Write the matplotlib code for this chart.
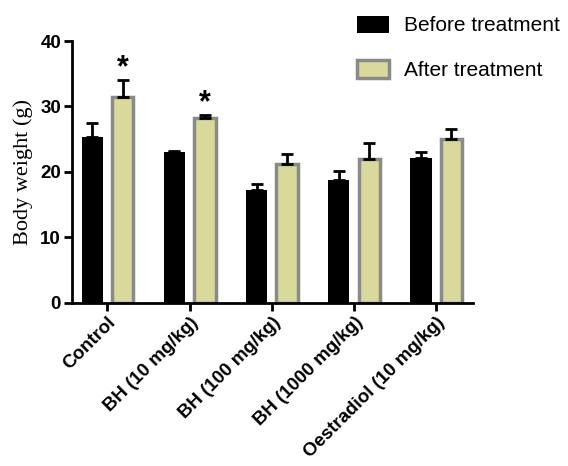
import numpy as np
import matplotlib.pyplot as plt

groups = ['Control', 'BH (10 mg/kg)', 'BH (100 mg/kg)', 'BH (1000 mg/kg)', 'Oestradiol (10 mg/kg)']
before = [25.3, 23.0, 17.3, 18.8, 22.1]
before_err = [2.2, 0.2, 0.9, 1.4, 0.9]
after = [31.5, 28.2, 21.2, 22.0, 25.1]
after_err = [2.5, 0.5, 1.6, 2.4, 1.5]
signif = ['*', '*', '', '', '']

plt.rcParams['font.family'] = ['Liberation Sans', 'DejaVu Sans']

fig = plt.figure(figsize=(5.68, 4.66), dpi=100)
ax = fig.add_axes([0.127, 0.350, 0.706, 0.562])

x = np.arange(len(groups))
w = 0.26
off = 0.185
ax.bar(x - off, before, w, color='black', label='Before treatment',
       yerr=[np.zeros(len(before)), before_err], capsize=4.5,
       error_kw=dict(ecolor='black', elinewidth=2, capthick=2))
ax.bar(x + off, after, w, color='#d9d99b', edgecolor='#8a8a8a', linewidth=2.5,
       label='After treatment',
       yerr=[np.zeros(len(after)), after_err], capsize=4.5,
       error_kw=dict(ecolor='black', elinewidth=2, capthick=2))

for i, s in enumerate(signif):
    if s:
        ax.text(x[i] + off, after[i] + after_err[i] - 0.5, s, ha='center', va='bottom',
                fontsize=22, fontweight='bold')

ax.set_xlim(-0.43, 4.45)
ax.set_ylim(0, 40)
ax.set_yticks([0, 10, 20, 30, 40])
ax.set_xticks(x)
ax.set_xticklabels(groups, rotation=45, ha='right', rotation_mode='anchor',
                   fontsize=13.5, fontweight='bold')
for lbl in ax.get_yticklabels():
    lbl.set_fontweight('bold')
    lbl.set_fontsize(13.5)
ax.set_ylabel('Body weight (g)', family='Liberation Serif', fontsize=16, labelpad=5)

for sp in ['top', 'right']:
    ax.spines[sp].set_visible(False)
for sp in ['left', 'bottom']:
    ax.spines[sp].set_linewidth(2)
ax.tick_params(axis='both', width=2, length=6, direction='out', pad=2)

ax.legend(loc='upper left', bbox_to_anchor=(0.71, 1.097), frameon=False, fontsize=15,
          handlelength=1.55, handleheight=0.9, handletextpad=0.7, labelspacing=1.2,
          borderpad=0, borderaxespad=0)

fig.savefig('out.png', dpi=100)
